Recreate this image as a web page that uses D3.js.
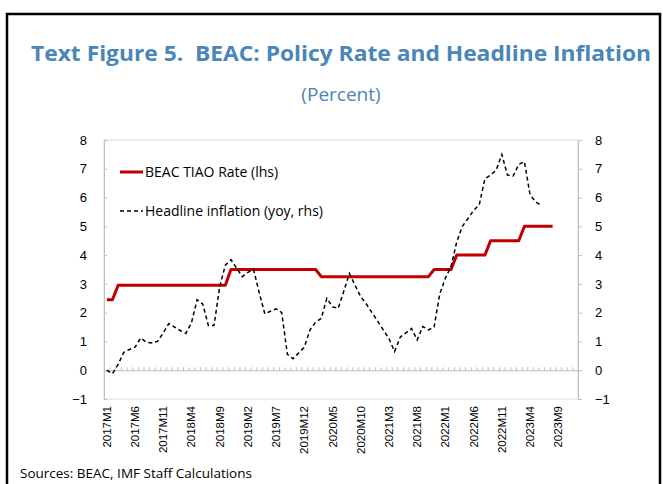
<!DOCTYPE html>
<html>
<head>
<meta charset="utf-8">
<script src="https://cdn.jsdelivr.net/npm/d3@7"></script>
<style>
  body { margin: 0; background: #fff; }
  svg { display: block; font-family: "Open Sans", "DejaVu Sans", sans-serif; }
  .axis path, .axis line { stroke: #bfbfbf; }
  .axis text { fill: #000; font-size: 13px; }
  .xlab text { font-size: 11.5px; }
</style>
</head>
<body>
<div id="chart"></div>
<script>
// months 2017M1 .. 2023M12
let years = [2017, 2018, 2019, 2020, 2021, 2022, 2023]
let monthNums = [1, 2, 3, 4, 5, 6, 7, 8, 9, 10, 11, 12]
let categories = years.flatMap(y => monthNums.map(m => y + "M" + m))

let xTickLabels = ["2017M1", "2017M6", "2017M11", "2018M4", "2018M9", "2019M2", "2019M7",
    "2019M12", "2020M5", "2020M10", "2021M3", "2021M8", "2022M1", "2022M6", "2022M11",
    "2023M4", "2023M9"]
let yTicks = [-1, 0, 1, 2, 3, 4, 5, 6, 7, 8]

// BEAC TIAO rate, 2017M1 .. 2023M8
let policyRate = [
    2.45, 2.45,
    2.95, 2.95, 2.95, 2.95, 2.95, 2.95, 2.95, 2.95, 2.95, 2.95,
    2.95, 2.95, 2.95, 2.95, 2.95, 2.95, 2.95, 2.95, 2.95, 2.95,
    3.5, 3.5, 3.5, 3.5, 3.5, 3.5, 3.5, 3.5, 3.5, 3.5, 3.5, 3.5, 3.5, 3.5, 3.5, 3.5,
    3.25, 3.25, 3.25, 3.25, 3.25, 3.25, 3.25, 3.25, 3.25, 3.25,
    3.25, 3.25, 3.25, 3.25, 3.25, 3.25, 3.25, 3.25, 3.25, 3.25,
    3.5, 3.5, 3.5, 3.5,
    4.0, 4.0, 4.0, 4.0, 4.0, 4.0,
    4.5, 4.5, 4.5, 4.5, 4.5, 4.5,
    5.0, 5.0, 5.0, 5.0, 5.0, 5.0
]

// headline inflation yoy, 2017M1 .. 2023M6
let inflation = [
    0.0, -0.12, 0.2, 0.62, 0.72, 0.8, 1.12, 0.97, 0.95, 1.0,
    1.3, 1.62, 1.5, 1.38, 1.28, 1.65, 2.45, 2.3, 1.55, 1.55,
    2.9, 3.65, 3.84, 3.55, 3.25, 3.4, 3.5, 2.7, 1.96, 2.05,
    2.13, 2.0, 0.55, 0.4, 0.6, 0.8, 1.4, 1.67, 1.8, 2.5,
    2.2, 2.15, 2.75, 3.36, 2.95, 2.55, 2.3, 2.0, 1.7, 1.4,
    1.1, 0.65, 1.15, 1.3, 1.45, 1.05, 1.52, 1.4, 1.5, 2.65,
    3.2, 3.6, 4.45, 5.0, 5.27, 5.55, 5.75, 6.65, 6.78, 6.95,
    7.5, 6.78, 6.75, 7.15, 7.25, 6.1, 5.85, 5.72
]

let width = 663
let height = 484
let plotLeft = 104
let plotRight = 578
let plotTop = 140
let plotBottom = 399
let titleColor = "#4a86b8"

let svg = d3.select("#chart")
    .append("svg")
    .attr("width", width)
    .attr("height", height)

// рамка вокруг всей фигуры
svg.append("path")
    .attr("d", `M7,${height + 5} V14 H660 V${height + 5}`)
    .attr("fill", "none")
    .attr("stroke", "#000")
    .attr("stroke-width", 2.5)

svg.append("text")
    .attr("x", 341)
    .attr("y", 61)
    .attr("text-anchor", "middle")
    .attr("textLength", 620)
    .attr("lengthAdjust", "spacingAndGlyphs")
    .style("font-size", "21px")
    .style("font-weight", "bold")
    .style("white-space", "pre")
    .style("fill", titleColor)
    .text("Text Figure 5.  BEAC: Policy Rate and Headline Inflation")

svg.append("text")
    .attr("x", 341)
    .attr("y", 101)
    .attr("text-anchor", "middle")
    .style("font-size", "19px")
    .style("fill", titleColor)
    .text("(Percent)")

// шкалы
let scaleX = d3.scaleBand()
    .domain(categories)
    .range([plotLeft, plotRight])
let edgeX = d3.scaleLinear()
    .domain([0, categories.length])
    .range([plotLeft, plotRight])
let scaleYL = d3.scaleLinear().domain([-1, 8]).range([plotBottom, plotTop])
let scaleYR = d3.scaleLinear().domain([-1, 8]).range([plotBottom, plotTop])
let cx = d => scaleX(d) + scaleX.bandwidth() / 2

// рамка области построения
svg.append("rect")
    .attr("x", plotLeft)
    .attr("y", plotTop)
    .attr("width", plotRight - plotLeft)
    .attr("height", plotBottom - plotTop)
    .attr("fill", "none")
    .attr("stroke", "#d9d9d9")

// левая ось
svg.append("g")
    .attr("class", "axis")
    .attr("transform", `translate(${plotLeft},0)`)
    .call(d3.axisLeft(scaleYL).tickValues(yTicks).tickSizeInner(-3).tickSizeOuter(0).tickPadding(17))

// правая ось
svg.append("g")
    .attr("class", "axis")
    .attr("transform", `translate(${plotRight},0)`)
    .call(d3.axisRight(scaleYR).tickValues(yTicks).tickSizeInner(4).tickSizeOuter(0).tickPadding(13))

// горизонтальная ось на нуле с делениями между месяцами
svg.append("g")
    .attr("class", "axis")
    .attr("transform", `translate(0,${scaleYL(0)})`)
    .call(d3.axisBottom(edgeX).tickValues(d3.range(categories.length + 1)).tickSizeInner(-3).tickSizeOuter(0).tickFormat(""))

// подписи месяцев под графиком
svg.append("g")
    .attr("class", "axis xlab")
    .attr("transform", `translate(0,${plotBottom})`)
    .call(d3.axisBottom(scaleX).tickValues(xTickLabels).tickSize(0))
    .call(g => g.select(".domain").remove())
    .selectAll("text")
    .attr("transform", "rotate(-90)")
    .attr("x", -7)
    .attr("y", 0)
    .attr("dy", "0.35em")
    .style("text-anchor", "end")

// линии
let lineRate = d3.line()
    .x((d, i) => cx(categories[i]))
    .y(d => scaleYL(d))
let lineInfl = d3.line()
    .x((d, i) => cx(categories[i]))
    .y(d => scaleYR(d))

svg.append("path")
    .datum(policyRate)
    .attr("d", lineRate)
    .attr("fill", "none")
    .attr("stroke", "#c00000")
    .attr("stroke-width", 3)
    .attr("stroke-linejoin", "round")

svg.append("path")
    .datum(inflation)
    .attr("d", lineInfl)
    .attr("fill", "none")
    .attr("stroke", "#000")
    .attr("stroke-width", 1.5)
    .attr("stroke-dasharray", "4,3")

// легенда
let legend = svg.append("g").style("font-size", "14px")
legend.append("line")
    .attr("x1", 120).attr("x2", 143).attr("y1", 172).attr("y2", 172)
    .attr("stroke", "#c00000").attr("stroke-width", 3)
legend.append("text")
    .attr("x", 145).attr("y", 172).attr("dy", "0.35em")
    .text("BEAC TIAO Rate (lhs)")
legend.append("line")
    .attr("x1", 120).attr("x2", 143).attr("y1", 211).attr("y2", 211)
    .attr("stroke", "#000").attr("stroke-width", 1.5).attr("stroke-dasharray", "4,3")
legend.append("text")
    .attr("x", 145).attr("y", 211).attr("dy", "0.35em")
    .text("Headline inflation (yoy, rhs)")

svg.append("text")
    .attr("x", 20)
    .attr("y", 478)
    .style("font-size", "13.5px")
    .text("Sources: BEAC, IMF Staff Calculations")
</script>
</body>
</html>
